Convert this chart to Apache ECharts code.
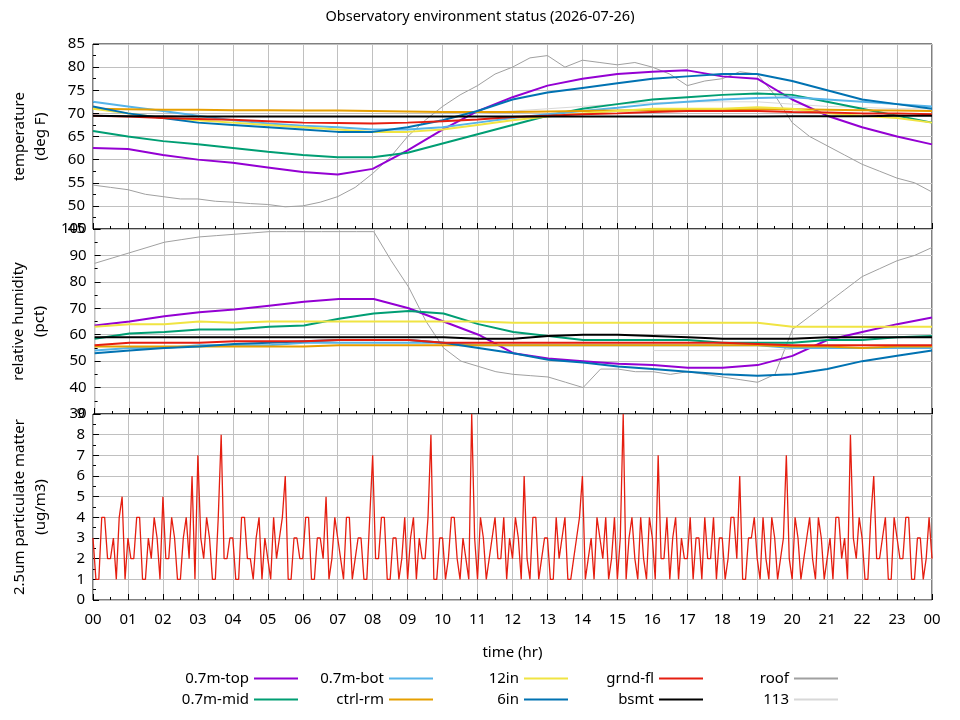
<!DOCTYPE html>
<html>
<head>
<meta charset="utf-8">
<script src="https://cdn.jsdelivr.net/npm/echarts@6/dist/echarts.min.js"></script>
<style>html,body{margin:0;background:#fff}#main{width:960px;height:720px}</style>
</head>
<body>
<div id="main"></div>
<script>
// hourly readings, 00h .. 24h
const hours = [0,1,2,3,4,5,6,7,8,9,10,11,12,13,14,15,16,17,18,19,20,21,22,23,24];

// temperature (deg F)
const tTop  = [62.5,62.3,61,60,59.3,58.3,57.3,56.8,58,62,66.5,70.5,73.5,76,77.5,78.5,79,79.3,78,77.5,73,69.5,67,65,63.3];
const tMid  = [66.2,65,64,63.3,62.5,61.7,61,60.5,60.5,61.5,63.5,65.5,67.5,69.5,71,72,73,73.5,74,74.3,74,72.5,71,69.5,68];
const tBot  = [72.5,71.5,70.5,69.5,68.5,67.8,67.3,67,66.5,66.5,67,68,69,69.8,70.5,71.2,72,72.5,73,73.3,73.5,73,72.5,72,71.5];
const tCtrl = [71,70.9,70.8,70.8,70.7,70.7,70.6,70.6,70.5,70.4,70.3,70.3,70.3,70.4,70.5,70.6,70.7,70.8,70.8,70.9,70.9,70.8,70.7,70.6,70.5];
const t12   = [71,70,69,68.5,68,67.5,67,66.5,66,66,66.5,67.5,68.5,69.3,70,70.5,71,71,71,71.3,71,70,69.5,69,68];
const t6    = [71.5,70,69,68,67.5,67,66.5,66,66,67,68.5,70.5,73,74.5,75.5,76.5,77.5,78,78.5,78.5,77,75,73,72,71];
const tGrnd = [69.5,69.3,69,68.8,68.6,68.3,68,67.9,67.8,68,68.3,68.7,69.2,69.5,69.8,70,70.3,70.5,70.5,70.5,70.3,70.2,70,70,69.8];
const tBsmt = [69.5,69.4,69.4,69.3,69.3,69.3,69.3,69.3,69.3,69.3,69.3,69.3,69.3,69.3,69.3,69.3,69.3,69.3,69.3,69.3,69.4,69.4,69.4,69.5,69.5];
const t113  = [null,null,null,null,null,null,null,null,null,null,null,70,70.5,71,71.5,72,72.3,72.5,72.5,72.5,72,71.5,71.3,71,71];

// roof temperature, half-hourly (noisy)
const halfHours = [0,0.5,1,1.5,2,2.5,3,3.5,4,4.5,5,5.5,6,6.5,7,7.5,8,8.5,9,9.5,10,10.5,11,11.5,12,12.5,13,13.5,14,14.5,15,15.5,16,16.5,17,17.5,18,18.5,19,19.5,20,20.5,21,21.5,22,22.5,23,23.5,24];
const tRoof = [54.5,54,53.5,52.5,52,51.5,51.5,51,50.8,50.5,50.3,49.8,50,50.8,52,54,57,60.5,65,68.5,71.5,74,76,78.5,80,82,82.5,80,81.5,81,80.5,81,80,78.5,76,77,77.5,79,78.5,74,68,65,63,61,59,57.5,56,55,53];

// relative humidity (pct)
const hTop  = [63.5,65,67,68.5,69.5,71,72.5,73.5,73.5,70,65,60,53,51,50,49,48.5,47.5,47.5,48.5,52,58,61,64,66.5];
const hMid  = [58.5,60.5,61,62,62,63,63.5,66,68,69,68,64,61,59.5,58,58,58,58,57,57,57,58,58,59,59.5];
const hBot  = [54,55,55,56,56,56,57,57,57,57,57,56,56,56,56,56,56,56,56,56,55,55,55,55,55];
const hCtrl = [55.5,55.5,55.5,55.5,55.5,55.5,55.5,56,56,56,56,56,56,56,56,56,56,56,56,56,55.5,55.5,55,55.5,55.5];
const h12   = [63,64,64,65,64.5,65,65,65,65,65,65,65,64.5,64.5,64.5,64.5,64.5,64.5,64.5,64.5,63,63,63,63,63];
const h6    = [53,54,55,55.5,56.5,57,57.5,58,58,58,57,55,53,50.5,49.5,48,47,46,45,44.5,45,47,50,52,54];
const hGrnd = [56,57,57,57,57.5,57.5,57.5,58,58,58,57,57,57,57,57,57,57,57,57,56.5,56,56,56,56,56];
const hBsmt = [59,59,59,59,59,59,59,59,59,59,59,58.5,58.5,59.5,60,60,59.5,59,58.5,58.5,58.5,59,59,59,59];
const h113  = [null,null,null,null,null,null,null,null,null,null,null,null,null,null,null,null,54,54,54,54,54.5,null,null,null,null];
const hRoof = [87,89,91,93,95,96,97,97.5,98,98.5,99,99,99,99,99,99,99,88,78,65,55,50,48,46,45,44.5,44,42,40,47,47,46,46,45,46,45,44,43,42,45,62,67,72,77,82,85,88,90,93];

// 2.5um particulate matter (ug/m3): readings on the 10 min mark ...
const pmA = [
  3,1,4,2,1,5,3,2,4,1,2,3,
  5,2,3,1,4,6,7,2,3,1,8,2,
  3,1,4,2,3,1,2,4,3,6,1,3,
  2,4,1,3,5,2,3,1,4,2,3,1,
  7,2,4,1,3,2,1,4,3,2,8,1,
  3,2,4,1,2,9,1,3,2,4,2,1,
  2,3,6,1,4,2,3,1,2,4,1,3,
  6,2,1,3,4,2,1,9,3,2,4,1,
  3,7,2,1,4,3,2,1,3,4,2,1,
  3,2,4,6,1,3,2,4,1,3,2,7,
  1,3,2,4,1,3,2,1,4,3,8,2,
  3,1,6,2,4,1,3,2,4,1,3,2
];
// ... and 5 min after each mark
const pmB = [
  1,4,2,3,4,1,2,4,1,3,4,1,
  2,4,1,3,2,1,3,4,1,4,2,3,
  1,4,2,1,4,3,1,2,4,1,3,2,
  4,1,3,2,1,4,2,4,1,3,1,4,
  2,4,1,3,1,4,3,1,2,4,1,3,
  1,4,2,3,1,3,4,1,3,2,4,3,
  4,1,2,4,1,3,1,4,3,1,2,4,
  1,3,4,2,1,4,3,1,4,1,2,4,
  1,2,4,3,1,2,4,3,1,2,4,3,
  1,4,2,1,3,4,1,2,4,1,3,2,
  4,1,3,2,4,1,3,4,2,1,3,4,
  1,4,2,3,1,4,2,4,1,3,1,4
];
const pmLast = 2;

const colors = {
  '0.7m-top': '#9400d3', '0.7m-mid': '#009e73', '0.7m-bot': '#56b4e9', 'ctrl-rm': '#e69f00',
  '12in': '#f0e442', '6in': '#0072b2', 'grnd-fl': '#e51e10', 'bsmt': '#000000',
  'roof': '#a0a0a0', '113': '#d8d8d8'
};

const pair = (xs, ys) => xs.map((x, i) => [x, ys[i]]);
const font = 'Noto Sans';

const pmData = [];
pmA.forEach((v, i) => {
  pmData.push([i / 6, v]);
  pmData.push([i / 6 + 1 / 12, pmB[i]]);
});
pmData.push([24, pmLast]);

function line(name, grid, data, width, z) {
  return {
    name, type: 'line', xAxisIndex: grid, yAxisIndex: grid,
    data, showSymbol: false, symbol: 'none', connectNulls: false,
    lineStyle: { color: colors[name], width }, itemStyle: { color: colors[name] },
    z: z || 2, animation: false
  };
}

const series = [
  line('roof', 0, pair(halfHours, tRoof), 1, 1),
  line('113', 0, pair(hours, t113), 1, 1),
  line('0.7m-top', 0, pair(hours, tTop), 2),
  line('0.7m-mid', 0, pair(hours, tMid), 2),
  line('0.7m-bot', 0, pair(hours, tBot), 2),
  line('ctrl-rm', 0, pair(hours, tCtrl), 2),
  line('12in', 0, pair(hours, t12), 2),
  line('6in', 0, pair(hours, t6), 2),
  line('grnd-fl', 0, pair(hours, tGrnd), 2),
  line('bsmt', 0, pair(hours, tBsmt), 2),
  line('roof', 1, pair(halfHours, hRoof), 1, 1),
  line('113', 1, pair(hours, h113), 1, 1),
  line('0.7m-top', 1, pair(hours, hTop), 2),
  line('0.7m-mid', 1, pair(hours, hMid), 2),
  line('0.7m-bot', 1, pair(hours, hBot), 2),
  line('ctrl-rm', 1, pair(hours, hCtrl), 2),
  line('12in', 1, pair(hours, h12), 2),
  line('6in', 1, pair(hours, h6), 2),
  line('grnd-fl', 1, pair(hours, hGrnd), 2),
  line('bsmt', 1, pair(hours, hBsmt), 2),
  line('grnd-fl', 2, pmData, 1.3)
];

const grids = [
  { left: 93, right: 28, top: 44, height: 185 },
  { left: 93, right: 28, top: 229, height: 185 },
  { left: 93, right: 28, top: 414, height: 186 }
].map(g => Object.assign(g, { show: true, borderColor: '#000', borderWidth: 1 }));

function xAxis(i) {
  return {
    type: 'value', gridIndex: i, min: 0, max: 24, interval: 1,
    axisLine: { show: false },
    axisTick: { show: true, inside: true, length: 6, lineStyle: { color: '#000' } },
    minorTick: { show: true, splitNumber: 2, length: 3, lineStyle: { color: '#000' } },
    splitLine: { show: true, lineStyle: { color: '#c0c0c0' } },
    axisLabel: {
      show: i === 2, color: '#000', fontFamily: font, fontSize: 15, margin: 12,
      formatter: v => String(v % 24).padStart(2, '0')
    },
    name: i === 2 ? 'time (hr)' : '', nameLocation: 'middle', nameGap: 45,
    nameTextStyle: { color: '#000', fontFamily: font, fontSize: 15 }
  };
}

function yAxis(i, min, max, interval, name) {
  return {
    type: 'value', gridIndex: i, min, max, interval,
    axisLine: { show: false },
    axisTick: { show: true, inside: true, length: 6, lineStyle: { color: '#000' } },
    minorTick: { show: true, splitNumber: 2, length: 3, lineStyle: { color: '#000' } },
    splitLine: { show: true, lineStyle: { color: '#c0c0c0' } },
    axisLabel: { color: '#000', fontFamily: font, fontSize: 15, margin: 8 },
    name, nameLocation: 'middle', nameGap: 42, nameRotate: 90,
    nameTextStyle: { color: '#000', fontFamily: font, fontSize: 15, lineHeight: 21 }
  };
}

// legend: five columns, text left of the line sample
const legendCols = [['0.7m-top','0.7m-mid'], ['0.7m-bot','ctrl-rm'], ['12in','6in'], ['grnd-fl','bsmt'], ['roof','113']];
const legendRight = [657, 522, 387, 252, 117];
const legends = legendCols.map((names, c) => ({
  orient: 'vertical', align: 'right', right: legendRight[c], top: 666,
  itemWidth: 44, itemHeight: 2, itemGap: 6, icon: 'rect',
  textStyle: { color: '#000', fontFamily: font, fontSize: 15 },
  data: names
}));

const chart = echarts.init(document.getElementById('main'));
chart.setOption({
  backgroundColor: '#fff',
  animation: false,
  title: {
    text: 'Observatory environment status (2026-07-26)', left: 'center', top: 4,
    textStyle: { color: '#000', fontFamily: font, fontSize: 14.5, fontWeight: 'normal' }
  },
  legend: legends,
  grid: grids,
  xAxis: [xAxis(0), xAxis(1), xAxis(2)],
  yAxis: [
    yAxis(0, 45, 85, 5, 'temperature\n(deg F)'),
    yAxis(1, 30, 100, 10, 'relative humidity\n(pct)'),
    yAxis(2, 0, 9, 1, '2.5um particulate matter\n(ug/m3)')
  ],
  series
});
</script>
</body>
</html>
